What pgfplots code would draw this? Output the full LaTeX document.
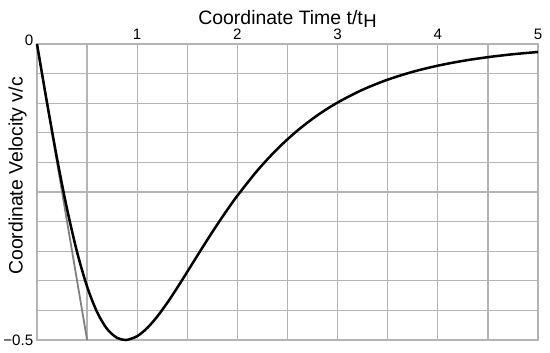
\documentclass[border=0pt]{standalone}
\usepackage{pgfplots}
\pgfplotsset{compat=1.18}
\usepackage{fontspec}
\setmainfont{Liberation Sans}
\definecolor{gridgray}{RGB}{180,180,180}
\definecolor{tangray}{RGB}{128,128,128}
\begin{document}
\begin{tikzpicture}
\begin{axis}[
  at={(0,0)}, anchor=south west,
  scale only axis, width=501bp, height=296bp,
  xmin=0, xmax=5, ymin=-0.5, ymax=0,
  xtick={0.5,1,1.5,2,2.5,3,3.5,4,4.5,5},
  xticklabels={,1,,2,,3,,4,,5},
  ytick={-0.5,-0.45,-0.4,-0.35,-0.3,-0.25,-0.2,-0.15,-0.1,-0.05,0},
  yticklabels={\raisebox{-5bp}{−0.5},,,,,,,,,,\raisebox{-1bp}{0}},
  xticklabel pos=top,
  major tick length=0pt,
  grid=major,
  grid style={draw=gridgray, line width=1.3bp},
  axis line style={draw=gridgray, line width=1.3bp},
  ticklabel style={font=\fontsize{15.2}{15.2}\selectfont, inner sep=0pt},
  xticklabel style={anchor=base, yshift=4.5bp},
  yticklabel style={anchor=base east, xshift=-3.5bp},
  xlabel={Coordinate Time t/t\kern0.5bp\raisebox{-0.3ex}{\fontsize{18.5}{18.5}\selectfont H}},
  ylabel={Coordinate Velocity v/c},
  label style={font=\fontsize{19.5}{19.5}\selectfont, inner sep=0pt},
  xlabel style={at={(axis description cs:0.5,1)}, anchor=base, yshift=20bp},
  ylabel style={at={(axis description cs:-0.0389,0.554)}, anchor=center},
  clip=false,
]
\addplot[tangray, line width=1.8bp] coordinates {(0,0) (0.5,-0.5)};
\addplot[black, line width=2.5bp, smooth] coordinates {
(0,0) (0.05,-0.0499) (0.1,-0.09917) (0.2,-0.19350) (0.3,-0.27868) (0.4,-0.35146)
(0.5,-0.40982) (0.6,-0.45302) (0.7,-0.48150) (0.8,-0.49651) (0.8814,-0.5)
(0.9,-0.49983) (1.0,-0.49355) (1.1,-0.47977) (1.2,-0.46041) (1.3,-0.43722)
(1.4,-0.41162) (1.5,-0.38478) (1.6,-0.35759) (1.7,-0.33073) (1.8,-0.30469)
(1.9,-0.27979) (2.0,-0.25624) (2.2,-0.21361) (2.4,-0.17702) (2.6,-0.14611)
(2.8,-0.12028) (3.0,-0.09884) (3.25,-0.07720) (3.5,-0.06023) (3.75,-0.04696)
(4.0,-0.03659) (4.25,-0.02851) (4.5,-0.02221) (4.75,-0.01730) (5.0,-0.01347)
};
\end{axis}
\pgfresetboundingbox
\useasboundingbox (-37bp,-13bp) rectangle (513bp,340bp);
\end{tikzpicture}
\end{document}
